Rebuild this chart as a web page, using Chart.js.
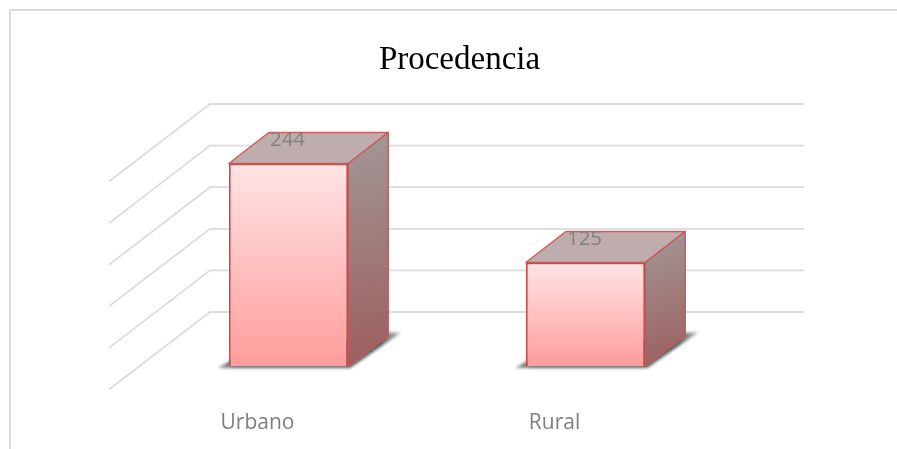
<!DOCTYPE html>
<html><head><meta charset="utf-8">
<style>html,body{margin:0;padding:0;background:#fff;overflow:hidden;width:897px;height:449px}
canvas{position:absolute;left:0;top:0}</style>
<script src="https://cdn.jsdelivr.net/npm/chart.js@4"></script></head>
<body><canvas id="c" width="919" height="449" style="width:919px;height:449px"></canvas>
<script>
const categories = ['Urbano', 'Rural'];
const values = [244, 125];
const chartTitle = 'Procedencia';
const gridValues = [0, 50, 100, 150, 200, 250];

const DX = 40, DY = 31;          // bar depth
const WALL_X = 210, WALL_Y = 54.5; // back wall offset vs. front of bars
const SIDE_X = 109, RIGHT = 804;

function poly(ctx, pts, fill, stroke, lw) {
  ctx.beginPath();
  pts.forEach((p, i) => i ? ctx.lineTo(p[0], p[1]) : ctx.moveTo(p[0], p[1]));
  ctx.closePath();
  if (fill) { ctx.fillStyle = fill; ctx.fill(); }
  if (stroke) { ctx.strokeStyle = stroke; ctx.lineWidth = lw; ctx.lineJoin = 'round'; ctx.stroke(); }
}

const scene = {
  id: 'scene',
  beforeDraw(chart) {
    const ctx = chart.ctx, y = chart.scales.y;
    ctx.save();
    ctx.strokeStyle = '#dcdcdc'; ctx.lineWidth = 2;
    ctx.beginPath(); ctx.moveTo(10, 449); ctx.lineTo(10, 10); ctx.lineTo(919, 10); ctx.stroke();
    ctx.lineWidth = 1.8;
    gridValues.forEach(v => {
      const py = y.getPixelForValue(v) - WALL_Y;
      ctx.beginPath();
      ctx.moveTo(SIDE_X, py + 77.5); ctx.lineTo(WALL_X, py); ctx.lineTo(RIGHT, py);
      ctx.stroke();
    });
    ctx.restore();
  },
  beforeDatasetsDraw(chart) {
    const ctx = chart.ctx, y = chart.scales.y, base = y.getPixelForValue(0);
    chart.getDatasetMeta(0).data.forEach(b => {
      const l = b.x - b.width / 2, r = b.x + b.width / 2, t = b.y;
      ctx.save();
      ctx.filter = 'blur(1.5px)';
      const sg = ctx.createLinearGradient(l - 12, 0, r + DX + 12, 0);
      sg.addColorStop(0, 'rgba(90,90,90,0.55)'); sg.addColorStop(0.1, 'rgba(70,70,70,0.85)');
      sg.addColorStop(0.9, 'rgba(70,70,70,0.85)'); sg.addColorStop(1, 'rgba(110,110,110,0.5)');
      poly(ctx, [[l - 11, base + 1.5], [r + 2, base + 1.5], [r + DX + 13, base - DY - 3], [r + DX - 2, base - DY - 3], [l + 2, base - 6]], sg);
      ctx.restore();
      ctx.save();
      poly(ctx, [[l, t], [r, t], [r + DX, t - DY], [l + DX, t - DY]], '#bfadad', '#c9605d', 1.5);
      const g = ctx.createLinearGradient(r, t - DY, r + DX, base);
      g.addColorStop(0, '#a39797'); g.addColorStop(1, '#9c5d5c');
      poly(ctx, [[r, t], [r + DX, t - DY], [r + DX, base - DY], [r, base]], g, '#c45b58', 1.5);
      ctx.restore();
    });
  },
  afterDatasetsDraw(chart) {
    const ctx = chart.ctx;
    ctx.save();
    ctx.font = '20.5px "Open Sans"';
    ctx.fillStyle = '#808080';
    ctx.textAlign = 'center'; ctx.textBaseline = 'middle';
    chart.getDatasetMeta(0).data.forEach((b, i) => {
      ctx.fillText(String(values[i]), b.x - 1, b.y - 23);
    });
    ctx.restore();
  }
};

new Chart(document.getElementById('c'), {
  type: 'bar',
  data: {
    labels: categories,
    datasets: [{
      data: values,
      borderColor: '#bf504d',
      borderWidth: 2,
      barPercentage: 0.402,
      categoryPercentage: 1,
      backgroundColor(ctx) {
        const s = ctx.chart.scales.y;
        if (!s || !ctx.parsed) return '#ffc0c0';
        const y0 = s.getPixelForValue(ctx.parsed.y), y1 = s.getPixelForValue(0);
        if (!isFinite(y0) || !isFinite(y1)) return '#ffc0c0';
        const g = ctx.chart.ctx.createLinearGradient(0, y0, 0, y1);
        g.addColorStop(0, '#ffe4e5'); g.addColorStop(1, '#ff9c9b');
        return g;
      }
    }]
  },
  options: {
    responsive: false,
    animation: false,
    layout: { padding: 0 },
    plugins: {
      legend: { display: false },
      tooltip: { enabled: false },
      title: {
        display: true, text: chartTitle, color: '#000',
        font: { family: '"Liberation Serif"', size: 33, weight: 'normal', lineHeight: 1.2 },
        padding: { top: 41, bottom: 77.9 }
      }
    },
    scales: {
      x: {
        grid: { display: false }, border: { display: false },
        afterFit(s) { s.height = 82.5; },
        ticks: { color: '#7f7f7f', font: { family: '"Open Sans"', size: 21 }, padding: 35.5, labelOffset: -31, maxRotation: 0 }
      },
      y: {
        min: 0, max: 250,
        grid: { display: false }, border: { display: false }, ticks: { display: false },
        afterFit(s) { s.width = 140; }
      },
      yRight: {
        position: 'right',
        grid: { display: false }, border: { display: false }, ticks: { display: false },
        afterFit(s) { s.width = 185; }
      }
    }
  },
  plugins: [scene]
});
</script></body></html>
